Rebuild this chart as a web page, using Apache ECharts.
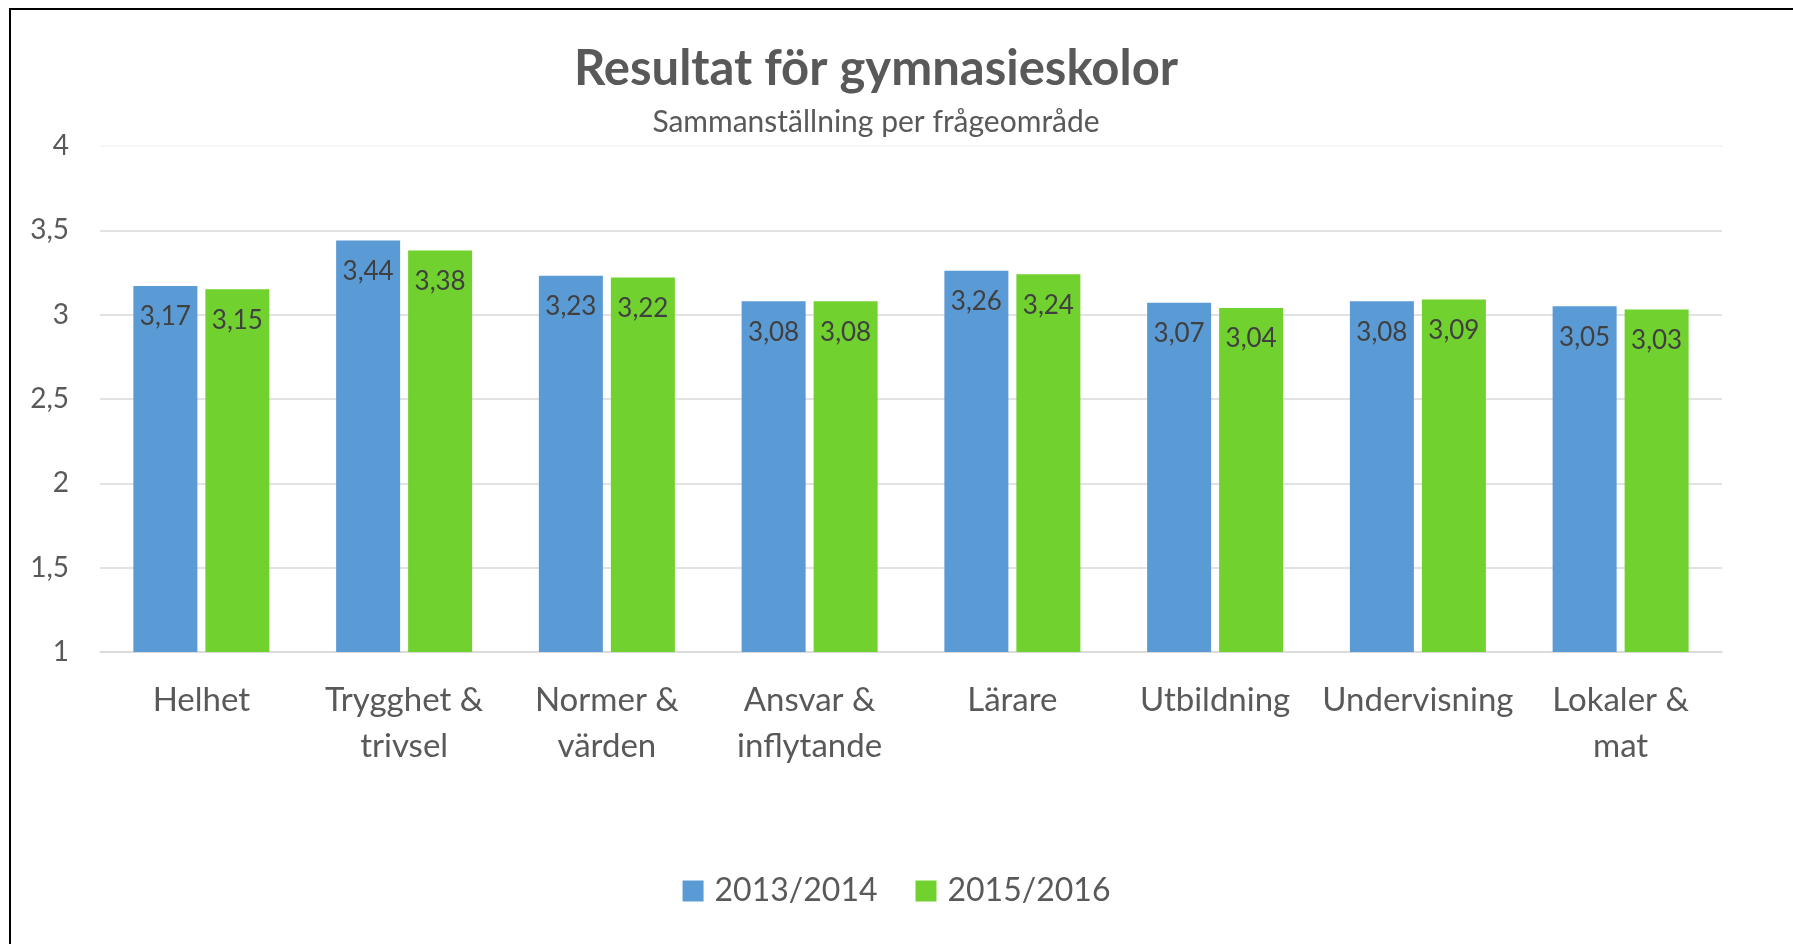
<html>
<head>
<meta charset="utf-8">
<script src="https://cdn.jsdelivr.net/npm/echarts@6/dist/echarts.min.js"></script>
<style>
  html, body { margin: 0; padding: 0; background: #fff; }
  #main { width: 1793px; height: 944px; }
</style>
</head>
<body>
<div id="main"></div>
<script>
var categories = ['Helhet', 'Trygghet &\ntrivsel', 'Normer &\nvärden', 'Ansvar &\ninflytande',
                  'Lärare', 'Utbildning', 'Undervisning', 'Lokaler &\nmat'];
var seriesNames = ['2013/2014', '2015/2016'];
var values2013 = [3.17, 3.44, 3.23, 3.08, 3.26, 3.07, 3.08, 3.05];
var values2015 = [3.15, 3.38, 3.22, 3.08, 3.24, 3.04, 3.09, 3.03];
var colors = ['#5B9BD5', '#71D22F'];

var FONT = 'Lato, "Noto Sans", sans-serif';

function comma(v, digits) {
    return (digits == null ? String(v) : v.toFixed(digits)).replace('.', ',');
}

var chart = echarts.init(document.getElementById('main'));

function barSeries(name, data, color) {
    return {
        name: name,
        type: 'bar',
        data: data,
        barWidth: 64,
        barGap: '12.5%',
        itemStyle: { color: color },
        label: {
            show: true,
            position: 'insideTop',
            distance: 18,
            color: '#404040',
            fontFamily: FONT,
            fontSize: 26,
            formatter: function (p) { return comma(p.value, 2); }
        }
    };
}

chart.setOption({
    backgroundColor: '#fff',
    animation: false,
    color: colors,
    title: {
        text: 'Resultat för gymnasieskolor',
        subtext: 'Sammanställning per frågeområde',
        left: 871,
        top: 40,
        textAlign: 'center',
        itemGap: 13,
        textStyle: { fontFamily: FONT, fontSize: 49, fontWeight: 'bold', color: '#595959' },
        subtextStyle: { fontFamily: FONT, fontSize: 30, color: '#595959' }
    },
    legend: {
        data: seriesNames,
        left: 'center',
        top: 870,
        icon: 'rect',
        itemWidth: 21,
        itemHeight: 21,
        itemGap: 38,
        textStyle: { fontFamily: FONT, fontSize: 32, color: '#595959', padding: [0, 0, 0, 6] }
    },
    grid: { left: 100, right: 71, top: 146, bottom: 292 },
    xAxis: {
        type: 'category',
        data: categories,
        axisLine: { lineStyle: { color: '#d9d9d9', width: 1.5 } },
        axisTick: { show: false },
        axisLabel: {
            interval: 0,
            margin: 25,
            fontFamily: FONT,
            fontSize: 33,
            lineHeight: 46,
            color: '#595959'
        }
    },
    yAxis: {
        type: 'value',
        min: 1,
        max: 4,
        interval: 0.5,
        axisLine: { show: false },
        axisTick: { show: false },
        axisLabel: {
            margin: 31,
            fontFamily: FONT,
            fontSize: 28,
            color: '#595959',
            formatter: function (v) { return comma(v); }
        },
        splitLine: {
            lineStyle: {
                color: ['#d9d9d9', '#d9d9d9', '#d9d9d9', '#d9d9d9', '#d9d9d9', '#d9d9d9', '#f2f2f2'],
                width: 1.5
            }
        }
    },
    graphic: [{
        type: 'polyline',
        silent: true,
        shape: { points: [[10, 944], [10, 9], [1793, 9]] },
        style: { stroke: '#000', lineWidth: 2, fill: null }
    }],
    series: [
        barSeries(seriesNames[0], values2013, colors[0]),
        barSeries(seriesNames[1], values2015, colors[1])
    ]
});
</script>
</body>
</html>
